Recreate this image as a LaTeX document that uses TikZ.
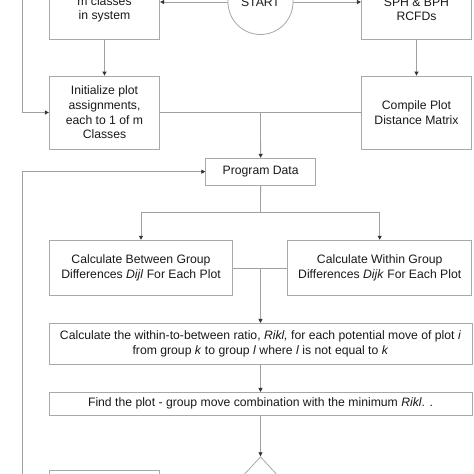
\documentclass[tikz,border=0pt]{standalone}
\usepackage{fontspec}
\setmainfont{Liberation Sans}
\usetikzlibrary{arrows.meta,shapes.geometric}
\definecolor{linegray}{HTML}{A0A0A0}
\definecolor{boxgray}{HTML}{A8A8A8}
\definecolor{arrowcol}{HTML}{333333}
\definecolor{textcol}{HTML}{1A1A1A}
\tikzset{
  box/.style={draw=boxgray, line width=0.8pt, inner sep=0pt, align=center, text=textcol,
    font=\fontsize{12.2}{15}\selectfont},
  ln/.style={draw=linegray, line width=0.8pt},
  arr/.style={ln, -{Triangle[length=4pt,width=4pt,color=arrowcol]}},
  dia/.style={draw=boxgray, line width=0.8pt, shape=diamond, inner sep=0pt}
}
\begin{document}
\begin{tikzpicture}[x=1pt,y=-1pt]
\useasboundingbox (0,0) rectangle (474,474);
\fill[white] (0,0) rectangle (474,474);
% top row
\node[box, minimum width=110.5, minimum height=59, font=\fontsize{12.2}{13.5}\selectfont] (tl) at (104.5,9.5) {m classes\\in system};
\node[box, circle, minimum size=65] (start) at (260.5,2) {START};
\node[box, minimum width=110.5, minimum height=59, font=\fontsize{12.2}{13.5}\selectfont] (tr) at (416.5,9.5) {SPH \& BPH\\RCFDs};
% second row
\node[box, minimum width=110.5, minimum height=73, font=\fontsize{12.2}{14.7}\selectfont] (init) at (104.5,112.5) {Initialize plot\\assignments,\\each to 1 of m\\Classes};
\node[box, minimum width=110.5, minimum height=73] (comp) at (416.5,112.5) {Compile Plot\\Distance Matrix};
% program data
\node[box, minimum width=110, minimum height=27] (prog) at (260.7,171.7) {Program Data};
% group differences
\node[box, minimum width=183.4, minimum height=55.7, font=\fontsize{12.2}{15.5}\selectfont] (betw) at (141,268) {Calculate Between Group\\Differences \textit{Dijl} For Each Plot};
\node[box, minimum width=184, minimum height=55.7, font=\fontsize{12.2}{15.5}\selectfont] (within) at (379.7,268) {Calculate Within Group\\Differences \textit{Dijk} For Each Plot};
% ratio
\node[box, minimum width=423, minimum height=40.7] (ratio) at (260.5,343.7) {Calculate the within-to-between ratio, \textit{Rikl,} for each potential move of plot \textit{i}\\from group \textit{k} to group \textit{l} where \textit{l} is not equal to \textit{k}};
\node[box, minimum width=423, minimum height=22.7] (find) at (260.5,403.7) {Find the plot - group move combination with the minimum \textit{Rikl}. .};
% bottom
\node[dia, minimum width=74, minimum height=80] (dec) at (260.5,496.7) {};
\node[box, minimum width=110.5, minimum height=60] (bl) at (104.5,500) {};
% coordinates
\coordinate (lt) at (22,-5);
\coordinate (lb) at (22,480);
\coordinate (j1) at (260.5,112.5);
\coordinate (j2) at (260.5,212.7);
\coordinate (j3) at (260.5,268);
% connectors
\draw[arr] (start.west) -- (start.west -| tl.east);
\draw[arr] (start.east) -- (start.east -| tr.west);
\draw[arr] (tl) -- (init);
\draw[arr] (tr) -- (comp);
\draw[ln] (init.east) -- (comp.west);
\draw[arr] (j1) -- (prog);
\draw[arr] (lt) |- (init.west);
\draw[arr] (lb) |- (prog.west);
\draw[ln] (prog) -- (j2);
\draw[arr] (j2) -| (betw.north);
\draw[arr] (j2) -| (within.north);
\draw[ln] (betw.east) -- (within.west);
\draw[arr] (j3) -- (ratio);
\draw[arr] (ratio) -- (find);
\draw[arr] (find) -- (dec);
\end{tikzpicture}
\end{document}
